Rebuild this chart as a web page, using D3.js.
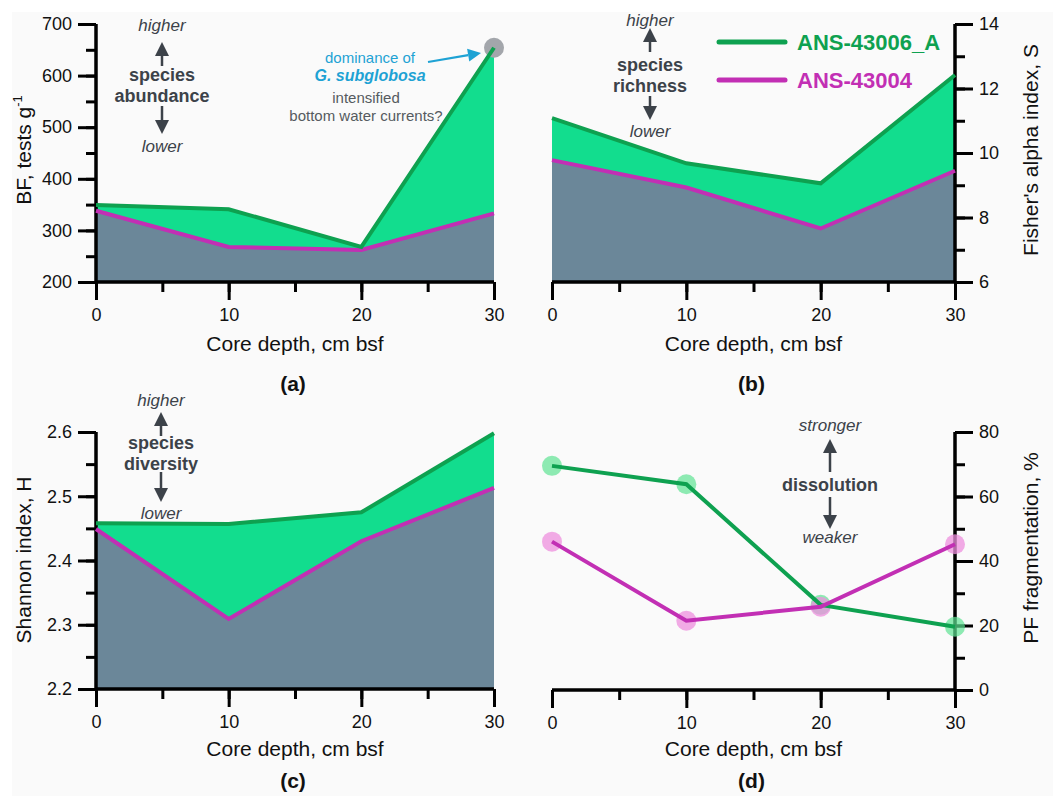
<!DOCTYPE html>
<html>
<head>
<meta charset="utf-8">
<script src="https://cdnjs.cloudflare.com/ajax/libs/d3/7.8.5/d3.min.js"></script>
<style>
  body { margin: 0; background: #ffffff; }
  svg { font-family: "Liberation Sans", Arial, sans-serif; }
</style>
</head>
<body>
<div class="chart"></div>
<script>
// core depths, cm bsf
const depth = [0, 10, 20, 30]

// (a) benthic foraminifera, tests per g
const bf_43006 = [349, 341, 268, 654]
const bf_43004 = [338, 268, 262, 333]
// (b) Fisher's alpha
const fisher_43006 = [11.08, 9.68, 9.06, 12.42]
const fisher_43004 = [9.78, 8.93, 7.66, 9.45]
// (c) Shannon H
const shannon_43006 = [2.458, 2.457, 2.475, 2.598]
const shannon_43004 = [2.449, 2.309, 2.430, 2.513]
// (d) planktonic fragmentation, %
const frag_43006 = [69.5, 63.8, 26.4, 19.6]
const frag_43004 = [46, 21.5, 25.8, 45.2]

const xTicks = [0, 10, 20, 30]
const series = ['ANS-43006_A', 'ANS-43004']

const GREEN = '#0ea150'
const GREEN_FILL = '#12dd8e'
const MAGENTA = '#c22fb4'
const SLATE = '#6b8799'
const DARK = '#3c4249'

const width = 1053, height = 796

const svg = d3.select('.chart').append('svg')
    .attr('width', width)
    .attr('height', height)

svg.append('rect')
    .attr('x', 12).attr('y', 12)
    .attr('width', width - 12).attr('height', height - 12)
    .attr('fill', '#fafafa')

// small arrow helper, filled head at (x2, y2)
function arrow(g, x1, y1, x2, y2, color, w, head) {
    const a = Math.atan2(y2 - y1, x2 - x1)
    const bx = x2 - head * Math.cos(a), by = y2 - head * Math.sin(a)
    g.append('line')
        .attr('x1', x1).attr('y1', y1).attr('x2', bx).attr('y2', by)
        .attr('stroke', color).attr('stroke-width', w)
    const hw = head * 0.5
    const pts = [
        [x2, y2],
        [bx + hw * Math.sin(a), by - hw * Math.cos(a)],
        [bx - hw * Math.sin(a), by + hw * Math.cos(a)]
    ]
    g.append('polygon').attr('points', pts.map(p => p.join(',')).join(' ')).attr('fill', color)
}

function label(g, x, y, txt, opts) {
    const o = Object.assign({size: 17, weight: 'normal', style: 'normal', color: DARK, anchor: 'middle'}, opts)
    return g.append('text')
        .attr('x', x).attr('y', y)
        .attr('text-anchor', o.anchor)
        .attr('font-size', o.size + 'px')
        .attr('font-weight', o.weight)
        .attr('font-style', o.style)
        .attr('fill', o.color)
        .text(txt)
}

function drawPanel(p) {
    const g = svg.append('g')
    const x = d3.scaleLinear().domain([0, 30]).range(p.xr)
    const y = d3.scaleLinear().domain(p.domain).range(p.yr)
    const base = p.domain[0]

    const pts1 = depth.map((d, i) => [d, p.a[i]])
    const pts2 = depth.map((d, i) => [d, p.b[i]])

    if (p.fill) {
        const area = d3.area().x(d => x(d[0])).y0(y(base)).y1(d => y(d[1]))
        g.append('path').attr('d', area(pts1)).attr('fill', GREEN_FILL)
        g.append('path').attr('d', area(pts2)).attr('fill', SLATE)
    }

    // axes: major + minor ticks
    const xAxisY = p.yr[0]
    const xMinor = d3.axisBottom(x).tickValues(d3.range(0, 31, 5)).tickSize(10).tickFormat('')
    const xMajor = d3.axisBottom(x).tickValues(xTicks).tickSize(18).tickPadding(8)
    const ax = g.append('g').attr('transform', `translate(0,${xAxisY})`)
    ax.call(xMinor)
    ax.append('g').call(xMajor)

    const yAxisX = p.right ? p.xr[1] : p.xr[0]
    const yFn = p.right ? d3.axisRight : d3.axisLeft
    const yMinor = yFn(y).tickValues(p.minor).tickSize(10).tickFormat('')
    const yMajor = yFn(y).tickValues(p.major).tickSize(18).tickPadding(6).tickFormat(p.fmt)
    const ay = g.append('g').attr('transform', `translate(${yAxisX},0)`)
    ay.call(yMinor)
    ay.append('g').call(yMajor)

    g.selectAll('.domain').attr('stroke', '#000').attr('stroke-width', 3)
    g.selectAll('.tick line').attr('stroke', '#000').attr('stroke-width', 3)
    g.selectAll('.tick text').attr('font-size', '18px').attr('fill', '#111')
        .style('font-family', '"Liberation Sans", Arial, sans-serif')
    ax.selectAll('.domain').attr('d', `M${p.xr[0]},0H${p.xr[1]}`)
    ay.selectAll('.domain').attr('d', `M0,${p.yr[0]}V${p.yr[1]}`)

    if (p.markers) {
        g.selectAll('.m1').data(pts1).enter().append('circle')
            .attr('cx', d => x(d[0])).attr('cy', d => y(d[1])).attr('r', 10)
            .attr('fill', '#5ee393').attr('opacity', 0.7)
        g.selectAll('.m2').data(pts2).enter().append('circle')
            .attr('cx', d => x(d[0])).attr('cy', d => y(d[1])).attr('r', 10)
            .attr('fill', '#ee8fdd').attr('opacity', 0.75)
    }
    if (p.extra) p.extra(g, x, y)

    const line = d3.line().x(d => x(d[0])).y(d => y(d[1]))
    const order = p.markers ? [[pts1, GREEN], [pts2, MAGENTA]] : [[pts2, MAGENTA], [pts1, GREEN]]
    order.forEach(([pts, c]) => {
        g.append('path').attr('d', line(pts)).attr('fill', 'none')
            .attr('stroke', c).attr('stroke-width', 4)
    })

    // x axis title and panel letter
    const cx = (p.xr[0] + p.xr[1]) / 2
    label(g, cx, xAxisY + p.tOff, 'Core depth, cm bsf', {size: 21, color: '#111'})
    label(g, cx - 2, xAxisY + p.lOff, p.letter, {size: 21, weight: 'bold', color: '#111'})

    // y axis title
    const yt = g.append('text')
        .attr('transform', `translate(${p.titleX},${p.titleY}) rotate(-90)`)
        .attr('text-anchor', 'middle')
        .attr('font-size', '21px')
        .attr('fill', '#111')
    if (p.title === 'BF') {
        yt.append('tspan').text('BF, tests g')
        yt.append('tspan').attr('font-size', '13px').attr('dy', -9).text('-1')
    } else {
        yt.text(p.title)
    }
    return g
}

function annot(g, xc, top, words, lines) {
    // italic word above, bold lines, italic word below, arrows between
    label(g, xc, top.hy, words[0], {style: 'italic', size: 17})
    arrow(g, xc, top.u1, xc, top.u2, DARK, 2.5, 14)
    lines.forEach((t, i) => label(g, xc, top.ly + i * 21, t, {weight: 'bold', size: 18}))
    arrow(g, xc, top.d1, xc, top.d2, DARK, 2.5, 14)
    label(g, xc, top.lo, words[1], {style: 'italic', size: 17})
}

// (a)
drawPanel({
    xr: [96, 494], yr: [282, 24], domain: [200, 700], a: bf_43006, b: bf_43004,
    fill: true, right: false, major: d3.range(200, 701, 100), minor: d3.range(200, 701, 50),
    fmt: d3.format('d'), letter: '(a)', title: 'BF', titleX: 31, titleY: 150, tOff: 69, lOff: 109,
    extra: (g, x, y) => {
        g.append('circle').attr('cx', x(30)).attr('cy', y(bf_43006[3])).attr('r', 10)
            .attr('fill', '#a3a6ab')
    }
}).call(g => {
    annot(g, 162, {hy: 31, u1: 66, u2: 42, ly: 81, d1: 106, d2: 134, lo: 152},
        ['higher', 'lower'], ['species', 'abundance'])
    label(g, 370, 63, 'dominance of', {size: 15, color: '#1ea2d4'})
    label(g, 370, 81, 'G. subglobosa', {size: 16, weight: 'bold', style: 'italic', color: '#1ea2d4'})
    label(g, 366, 103, 'intensified', {size: 15, color: '#555b60'})
    label(g, 366, 121, 'bottom water currents?', {size: 15, color: '#555b60'})
    arrow(g, 428, 62, 481, 53, '#1ea2d4', 2.2, 13)
})

// (b)
drawPanel({
    xr: [552, 955], yr: [282, 24], domain: [6, 14], a: fisher_43006, b: fisher_43004,
    fill: true, right: true, major: d3.range(6, 15, 2), minor: d3.range(6, 15, 1),
    fmt: d3.format('d'), letter: '(b)', title: "Fisher's alpha index, S", titleX: 1038, titleY: 150,
    tOff: 69, lOff: 109
}).call(g => {
    annot(g, 650, {hy: 26, u1: 52, u2: 28, ly: 71, d1: 96, d2: 120, lo: 137},
        ['higher', 'lower'], ['species', 'richness'])
    // legend
    const leg = g.append('g')
    const colors = [GREEN, MAGENTA]
    series.forEach((s, i) => {
        const yy = 42 + i * 38
        leg.append('line').attr('x1', 719).attr('x2', 785).attr('y1', yy).attr('y2', yy)
            .attr('stroke', colors[i]).attr('stroke-width', 5).attr('stroke-linecap', 'round')
        label(leg, 797, yy + 8, s, {size: 22, weight: 'bold', color: colors[i], anchor: 'start'})
    })
})

// (c)
drawPanel({
    xr: [96, 494], yr: [689, 432], domain: [2.2, 2.6], a: shannon_43006, b: shannon_43004,
    fill: true, right: false, major: [2.2, 2.3, 2.4, 2.5, 2.6], minor: d3.range(0, 9).map(i => 2.2 + i * 0.05),
    fmt: d3.format('.1f'), letter: '(c)', title: 'Shannon index, H', titleX: 31, titleY: 560,
    tOff: 67, lOff: 99
}).call(g => {
    annot(g, 161, {hy: 406, u1: 436, u2: 412, ly: 449, d1: 472, d2: 502, lo: 519},
        ['higher', 'lower'], ['species', 'diversity'])
})

// (d)
drawPanel({
    xr: [552, 955], yr: [690, 432], domain: [0, 80], a: frag_43006, b: frag_43004,
    fill: false, markers: true, right: true, major: d3.range(0, 81, 20), minor: d3.range(0, 81, 10),
    fmt: d3.format('d'), letter: '(d)', title: 'PF fragmentation, %', titleX: 1038, titleY: 548,
    tOff: 66, lOff: 98
}).call(g => {
    annot(g, 830, {hy: 431, u1: 472, u2: 439, ly: 491, d1: 497, d2: 529, lo: 543},
        ['stronger', 'weaker'], ['dissolution'])
})
</script>
</body>
</html>
